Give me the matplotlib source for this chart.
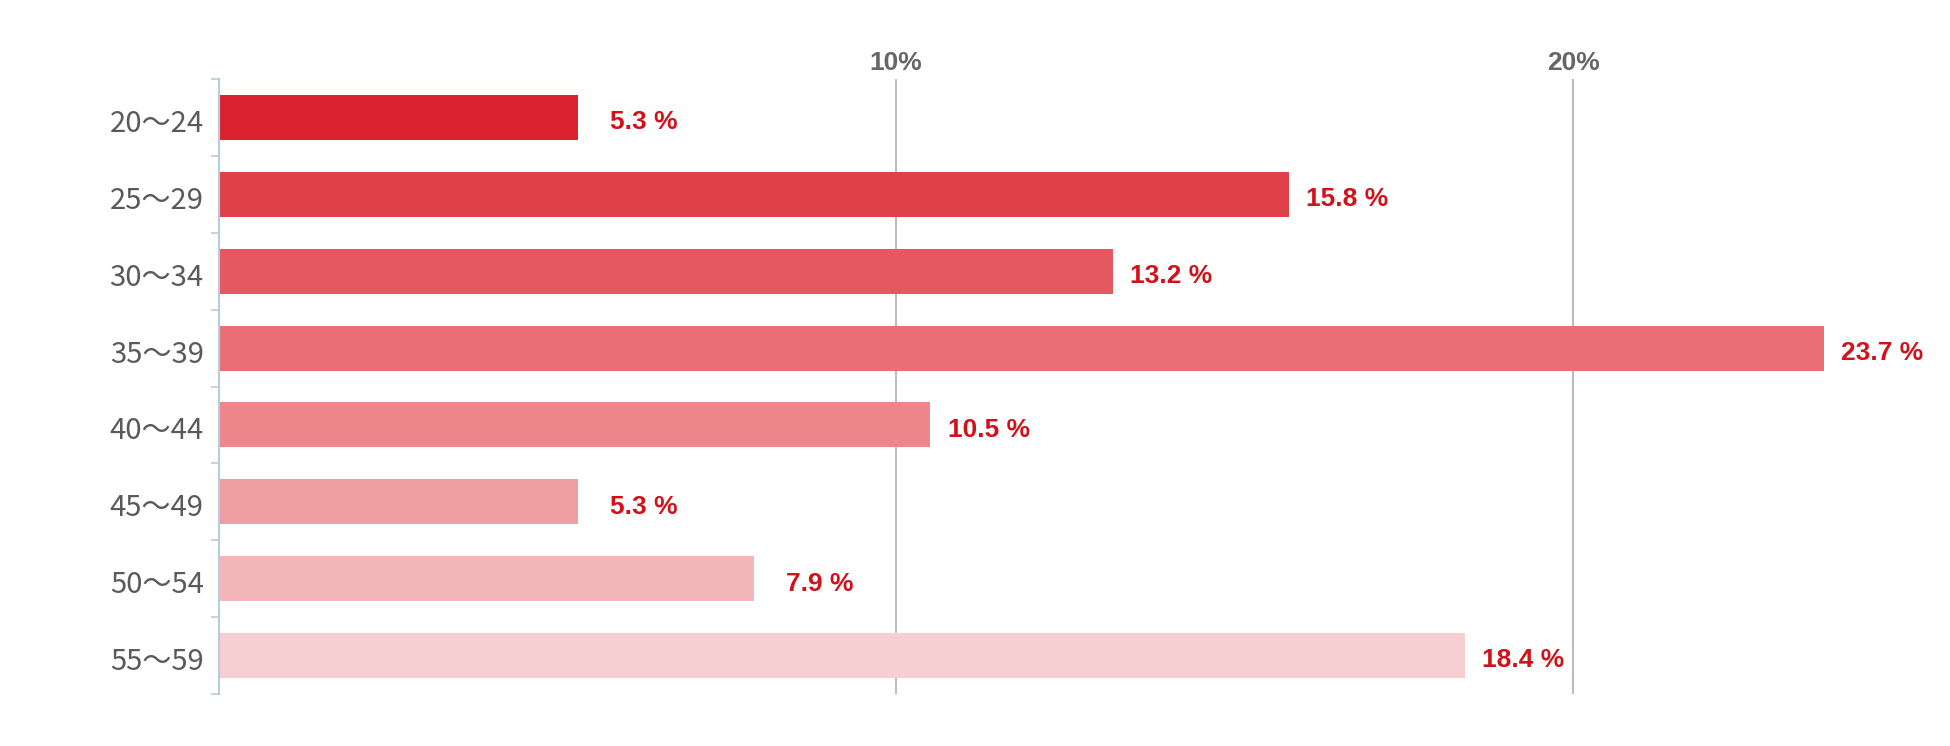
""" age distribution bar chart """

import matplotlib
matplotlib.use("Agg")
from matplotlib import pyplot as plt
from matplotlib import transforms
from matplotlib.ticker import FixedLocator, FuncFormatter

# data
ages = ["20〜24", "25〜29", "30〜34", "35〜39", "40〜44", "45〜49", "50〜54", "55〜59"]
share = [5.3, 15.8, 13.2, 23.7, 10.5, 5.3, 7.9, 18.4]
x_ticks = [10, 20]

bar_colors = ["#db2330", "#e0404a", "#e65861", "#e96e75",
              "#ee878b", "#f09ea2", "#f3b6b8", "#f7ced2"]

fig = plt.figure(figsize=(19.5, 7.46), dpi=100)
ax = fig.add_axes([0.1123, 0.0697, 0.868, 0.8244])

y = list(range(len(ages)))

# grid lines behind the bars
for t in x_ticks:
    ax.axvline(t, color="#bdbdbd", lw=1.5, zorder=1)

ax.barh(y, share, height=0.585, color=bar_colors, zorder=2)

# value labels, right aligned at a fixed gap after each bar
for yi, v in zip(y, share):
    ax.annotate(f"{v} %", (v, yi), xytext=(72, -3.5), textcoords="offset points",
                ha="right", va="center", fontsize=19, fontweight="bold",
                color="#d0121b", family="Liberation Sans")

ax.set_xlim(0, 25)
ax.set_ylim(len(ages) - 0.5, -0.5)

# x ticks on top, no marks
ax.xaxis.set_ticks_position("top")
ax.set_xticks(x_ticks)
ax.xaxis.set_major_formatter(FuncFormatter(lambda v, p: f"{int(v)}%"))
ax.tick_params(axis="x", length=0, pad=3, labelsize=19, labelcolor="#666666")
for lab in ax.get_xticklabels():
    lab.set_fontweight("bold")
    lab.set_family("Liberation Sans")

# y axis: labels at centres, small marks at boundaries
ax.set_yticks(y)
ax.set_yticklabels(ages, family=["Noto Sans CJK JP", "DejaVu Sans"])
ax.tick_params(axis="y", which="major", length=0, pad=11, labelsize=21,
               labelcolor="#5a5a5a")
shift = transforms.ScaledTranslation(0, -3 / 100, fig.dpi_scale_trans)
for lab in ax.get_yticklabels():
    lab.set_transform(lab.get_transform() + shift)
ax.yaxis.set_minor_locator(FixedLocator([i - 0.5 for i in range(len(ages) + 1)]))
ax.tick_params(axis="y", which="minor", length=6, width=1.2, color="#b8cce0",
               direction="out")

for s in ["top", "right", "bottom"]:
    ax.spines[s].set_visible(False)
ax.spines["left"].set_color("#b8cce0")
ax.spines["left"].set_linewidth(1.5)
ax.spines["left"].set_zorder(3)

fig.savefig("out.png", dpi=100)
